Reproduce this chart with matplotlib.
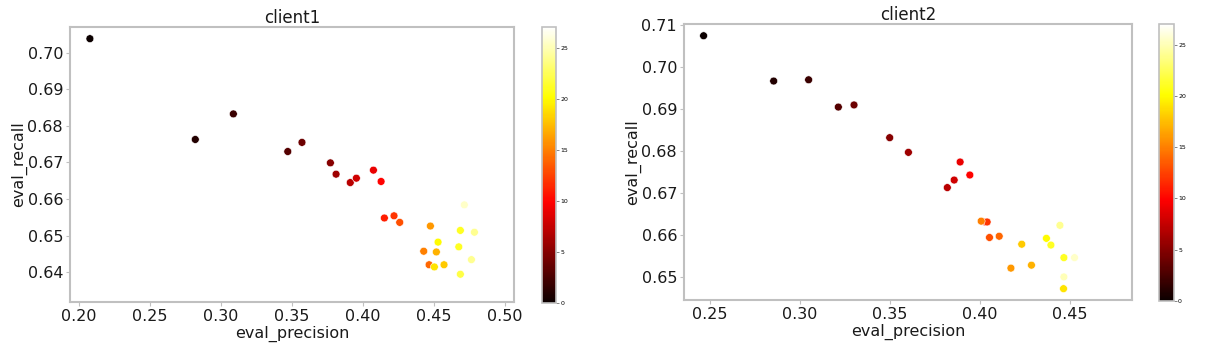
import matplotlib
matplotlib.use("Agg")
import matplotlib.pyplot as plt

# client1: (precision, recall, round)
c1_precision = [0.2077, 0.2819, 0.3087, 0.3470, 0.3570, 0.3770, 0.3810, 0.3910, 0.3953,
                0.4073, 0.4127, 0.4150, 0.4218, 0.4258, 0.4465, 0.4427, 0.4474, 0.4516,
                0.4570, 0.4502, 0.4528, 0.4685, 0.4674, 0.4685, 0.4784, 0.4763, 0.4713]
c1_recall = [0.7039, 0.6763, 0.6833, 0.6730, 0.6755, 0.6699, 0.6668, 0.6645, 0.6657,
             0.6679, 0.6648, 0.6548, 0.6554, 0.6536, 0.6420, 0.6457, 0.6526, 0.6455,
             0.6420, 0.6414, 0.6482, 0.6514, 0.6469, 0.6394, 0.6509, 0.6434, 0.6584]
c1_round = [0, 1, 2, 3, 4, 5, 6, 7, 8, 9, 10, 11, 12, 13, 14, 15, 16, 17,
            18, 19, 20, 21, 21, 22, 24, 24, 25.5]

# client2
c2_precision = [0.2465, 0.2854, 0.3048, 0.3213, 0.3300, 0.3498, 0.3602, 0.3818, 0.3856,
                0.3889, 0.3943, 0.4028, 0.4039, 0.4052, 0.4106, 0.4006, 0.4171, 0.4285,
                0.4231, 0.4463, 0.4368, 0.4393, 0.4465, 0.4443, 0.4465, 0.4524]
c2_recall = [0.7074, 0.6966, 0.6969, 0.6904, 0.6909, 0.6831, 0.6796, 0.6712, 0.6730,
             0.6773, 0.6742, 0.6630, 0.6630, 0.6593, 0.6596, 0.6632, 0.6520, 0.6527,
             0.6577, 0.6471, 0.6591, 0.6575, 0.6545, 0.6622, 0.6499, 0.6545]
c2_round = [0, 1, 2, 3, 4, 5, 6, 7, 8, 9, 10, 11, 12, 13, 14, 15, 16, 17,
            18, 19, 20, 21, 21, 24, 25, 25.5]

clients = [
    ("client1", c1_precision, c1_recall, c1_round,
     [0.0581, 0.1517, 0.3685, 0.7725], [0.4498, 0.1489, 0.0116, 0.7750],
     (0.1937, 0.5063), (0.6318, 0.7071), [0.20, 0.25, 0.30, 0.35, 0.40, 0.45, 0.50],
     [0.64, 0.65, 0.66, 0.67, 0.68, 0.69, 0.70]),
    ("client2", c2_precision, c2_recall, c2_round,
     [0.5676, 0.1573, 0.3718, 0.7753], [0.9618, 0.1545, 0.0124, 0.7780],
     (0.2356, 0.4843), (0.6444, 0.7102), [0.25, 0.30, 0.35, 0.40, 0.45],
     [0.65, 0.66, 0.67, 0.68, 0.69, 0.70, 0.71]),
]

fig = plt.figure(figsize=(12.05, 3.56), dpi=100)
spine_col = "#c0c0c0"

for name, xs, ys, cs, rect, crect, xlim, ylim, xt, yt in clients:
    ax = fig.add_axes(rect)
    sc = ax.scatter(xs, ys, c=cs, cmap="hot", vmin=0, vmax=27, s=32,
                    edgecolors="white", linewidths=0.4)
    ax.set_xlim(*xlim)
    ax.set_ylim(*ylim)
    ax.set_xticks(xt)
    ax.set_yticks(yt)
    ax.set_xticklabels([f"{v:.2f}" for v in xt])
    ax.set_yticklabels([f"{v:.2f}" for v in yt])
    ax.tick_params(labelsize=11.5, color=spine_col, length=3, pad=2, labelcolor="#1a1a1a")
    for sp in ax.spines.values():
        sp.set_color(spine_col)
        sp.set_linewidth(1.5)
    ax.set_xlabel("eval_precision", fontsize=11.5, labelpad=1, color="#1a1a1a")
    ax.set_ylabel("eval_recall", fontsize=11.5, labelpad=0, color="#1a1a1a")
    ax.set_title(name, fontsize=12, pad=3, color="#1a1a1a")

    cax = fig.add_axes(crect)
    cb = fig.colorbar(sc, cax=cax, ticks=[0, 5, 10, 15, 20, 25])
    cb.ax.tick_params(labelsize=4.5, length=2, width=0.5, color="#555555", pad=1)
    cb.outline.set_edgecolor(spine_col)
    cb.outline.set_linewidth(1.2)

fig.savefig("out.png", dpi=100)
